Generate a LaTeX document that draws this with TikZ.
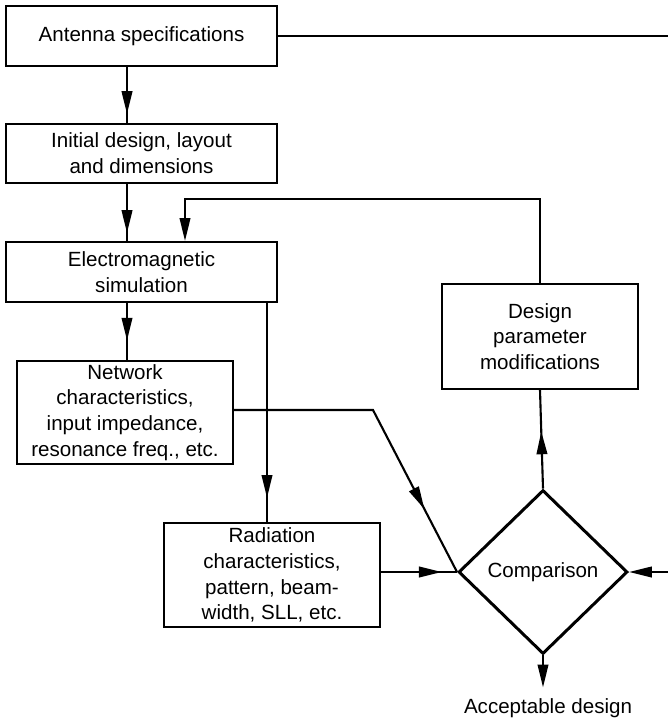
\documentclass[tikz,border=0pt]{standalone}
\usepackage{fontspec}
\setmainfont{Liberation Sans}
\usetikzlibrary{arrows.meta, shapes.geometric, decorations.markings}

\tikzset{
    flow/.tip={Triangle[length=13pt,width=6pt]},
    midtip/.style={decoration={markings, mark=at position #1 with {\arrow{flow}}},
                   postaction={decorate}},
}

\begin{document}
\begin{tikzpicture}[x=0.02cm, y=-0.02cm, line width=1.2pt,
                    font=\fontsize{11.7}{14.7}\selectfont]
\useasboundingbox (0,0) rectangle (667,719);

\begin{scope}[every node/.style={draw,align=center,inner sep=0pt,line width=1.2pt}]
    \node (spec) at (141.5, 36) [minimum width=5.42cm, minimum height=1.2cm] {Antenna specifications};
    \node (init) at (141.5, 153.5) [minimum width=5.42cm, minimum height=1.18cm] {Initial design, layout\\and dimensions};
    \node (em) at (141.5, 272) [minimum width=5.42cm, minimum height=1.2cm] {Electromagnetic\\simulation};

    \node (net) at (125, 412.5) [minimum width=4.32cm, minimum height=2.06cm] {Network\\characteristics,\\input impedance,\\resonance freq., etc.};
    \node (rad) at (272, 575) [minimum width=4.32cm, minimum height=2.08cm] {Radiation\\characteristics,\\pattern, beam-\\width, SLL, etc.};

    \node (des) at (540, 336.5) [minimum width=3.92cm, minimum height=2.1cm] {Design\\parameter\\modifications};
    \node (cmp) at (543, 572) [diamond, line width=1.7pt, minimum width=3.38cm, minimum height=3.28cm] {Comparison};
\end{scope}

\node (acc) [anchor=base, inner sep=5.5pt] at (548, 713) {Acceptable design};

% columns and bends of the connectors
\coordinate (c1) at (127, 0);
\coordinate (c2) at (267, 0);
\coordinate (fb) at (185, 199);
\coordinate (kink) at (373, 410);
\coordinate (rt) at (672, 36);
\coordinate (rb) at (672, 572);

\begin{scope}[line width=1.2pt]
    \draw [midtip=0.84] (spec.south -| c1) -- (init.north -| c1);
    \draw [midtip=0.86] (init.south -| c1) -- (em.north -| c1);
    \draw [midtip=0.66] (em.south -| c1) -- (net.north -| c1);
    \draw [midtip=0.89] (em.south -| c2) -- (rad.north -| c2);

    \draw [midtip=0.78] (net.east |- kink) -- (kink) -- (cmp.west);
    \draw [midtip=0.80] (rad.east |- cmp.west) -- (cmp.west);

    \draw [midtip=0.58] (cmp.north) -- (des.south);
    \draw [-flow] (des.north) |- (fb) -- (em.north -| fb);
    \draw [-flow] (cmp.south) -- (cmp.south |- acc.north);

    % loop back from the specifications along the right edge
    \draw [-flow] (spec.east) -- (rt) -- (rb) -- (cmp.east);
\end{scope}
\end{tikzpicture}
\end{document}
